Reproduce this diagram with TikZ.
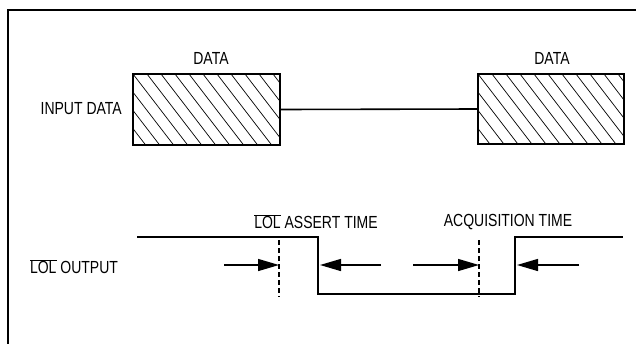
\documentclass[tikz,border=0pt]{standalone}
\usepackage{fontspec}
\setmainfont{Liberation Sans}[FakeStretch=0.8]
\usetikzlibrary{arrows.meta}
\begin{document}
\begin{tikzpicture}[x=1pt,y=-1pt,
  lbl/.style={font=\fontsize{17.5}{20}\selectfont, inner sep=0pt, anchor=base},
  databox/.style={draw, line width=1.6pt, inner sep=0pt, minimum width=147pt, minimum height=71pt,
    path picture={\foreach \k in {-6,...,12}{\draw[line width=0.7pt] ([xshift=\k*14pt]path picture bounding box.north west) -- ++(80pt,-104pt);}}},
  frame/.style={line width=2pt},
  sig/.style={line width=1.6pt},
  markline/.style={line width=1.3pt, dash pattern=on 5pt off 3pt},
  arr/.style={line width=1.4pt, -{Triangle[length=21pt,width=12pt]}}]
\useasboundingbox (0,0) rectangle (636,343);
% frame
\coordinate (fa) at (8,345);
\coordinate (fb) at (8,10);
\coordinate (fc) at (640,10);
\draw[frame] (fa) -- (fb) -- (fc);
% data boxes
\node[databox] (d1) at (206.5,109.5) {};
\node[databox, minimum width=146pt, minimum height=70pt] (d2) at (551,109) {};
\draw[sig] (d1.east) -- (d2.west);
\node[lbl] (t1) at (211,64.5) {DATA};
\node[lbl] (t2) at (552,64.5) {DATA};
\node[lbl, anchor=base east] (t3) at (122,114.5) {INPUT DATA};
% LOL signal
\coordinate (s0) at (137,237);
\coordinate (s1) at (318,237);
\coordinate (s2) at (318,294);
\coordinate (s3) at (515,294);
\coordinate (s4) at (515,237);
\coordinate (s5) at (623,237);
\draw[sig] (s0) -- (s1) -- (s2) -- (s3) -- (s4) -- (s5);
% dashed markers
\coordinate (m1a) at (279,240);
\coordinate (m1b) at (279,297);
\coordinate (m2a) at (479,240);
\coordinate (m2b) at (479,297);
\draw[markline] (m1a) -- (m1b);
\draw[markline] (m2a) -- (m2b);
% arrows
\coordinate (a1s) at (224,265);
\coordinate (a1e) at (279,265);
\coordinate (a2s) at (381,265);
\coordinate (a2e) at (320,265);
\coordinate (a3s) at (413,265);
\coordinate (a3e) at (479,265);
\coordinate (a4s) at (579,265);
\coordinate (a4e) at (517,265);
\draw[arr] (a1s) -- (a1e);
\draw[arr] (a2s) -- (a2e);
\draw[arr] (a3s) -- (a3e);
\draw[arr] (a4s) -- (a4e);
% labels
\node[lbl] (t4) at (316,228.5) {$\overline{\hbox{LOL}}$ ASSERT TIME};
\node[lbl] (t5) at (508,226.5) {ACQUISITION TIME};
\node[lbl] (t6) at (74,273.5) {$\overline{\hbox{LOL}}$ OUTPUT};
\end{tikzpicture}
\end{document}
